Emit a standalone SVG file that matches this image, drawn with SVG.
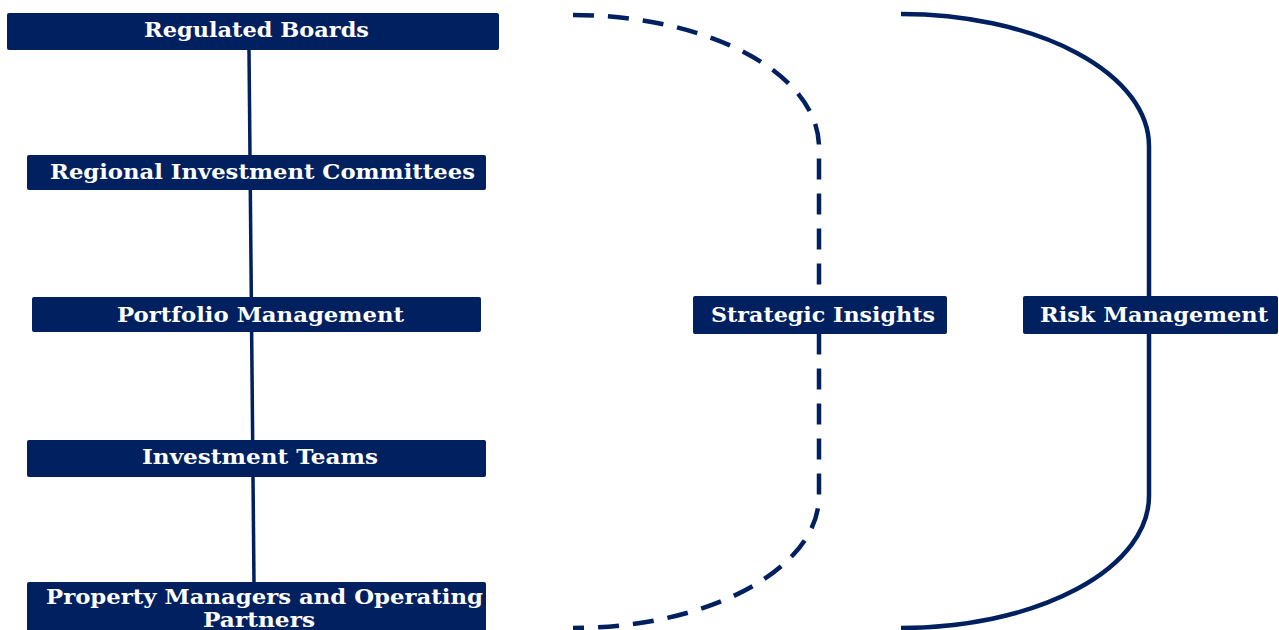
<svg xmlns="http://www.w3.org/2000/svg" width="1279" height="630" viewBox="0 0 1279 630">
  <style>
    .box { fill: #002060; }
    .lbl { font-family: "DejaVu Serif", "Liberation Serif", serif; font-weight: bold; font-size: 21px; fill: #ffffff; text-anchor: middle; }
    .link { fill: none; stroke: #002060; stroke-width: 4.5; }
    .dash { stroke-dasharray: 21 14; }
  </style>
  <rect width="1279" height="630" fill="#ffffff"/>

  <!-- connectors -->
  <g id="connectors">
    <line class="link" x1="249" y1="50" x2="254" y2="584" style="stroke-width:3.5"/>
    <path class="link dash" d="M573,15 A246,132 0 0 1 819,147 L819,496 A246,132 0 0 1 573,628"/>
    <path class="link" d="M901,14 A248,132 0 0 1 1149,146 L1149,496 A248,132 0 0 1 901,628"/>
  </g>

  <!-- hierarchy column -->
  <g id="regulated-boards">
    <rect class="box" x="7" y="13" width="492" height="37" rx="2"/>
    <text class="lbl" x="256.5" y="37" textLength="225" lengthAdjust="spacingAndGlyphs">Regulated Boards</text>
  </g>
  <g id="regional-investment-committees">
    <rect class="box" x="27" y="155" width="459" height="35" rx="2"/>
    <text class="lbl" x="262.5" y="179" textLength="425" lengthAdjust="spacingAndGlyphs">Regional Investment Committees</text>
  </g>
  <g id="portfolio-management">
    <rect class="box" x="32" y="297" width="449" height="35" rx="2"/>
    <text class="lbl" x="260.5" y="322" textLength="287" lengthAdjust="spacingAndGlyphs">Portfolio Management</text>
  </g>
  <g id="investment-teams">
    <rect class="box" x="27" y="440" width="459" height="37" rx="2"/>
    <text class="lbl" x="260" y="464" textLength="236" lengthAdjust="spacingAndGlyphs">Investment Teams</text>
  </g>
  <g id="property-managers">
    <rect class="box" x="27" y="582" width="459" height="60" rx="2"/>
    <text class="lbl" x="264.5" y="604" textLength="437" lengthAdjust="spacingAndGlyphs">Property Managers and Operating</text>
    <text class="lbl" x="259" y="627" textLength="112" lengthAdjust="spacingAndGlyphs">Partners</text>
  </g>

  <!-- side streams -->
  <g id="strategic-insights">
    <rect class="box" x="693" y="296" width="254" height="38" rx="2"/>
    <text class="lbl" x="823" y="322" textLength="224" lengthAdjust="spacingAndGlyphs">Strategic Insights</text>
  </g>
  <g id="risk-management">
    <rect class="box" x="1023" y="296" width="255" height="38" rx="2"/>
    <text class="lbl" x="1154" y="322" textLength="228" lengthAdjust="spacingAndGlyphs">Risk Management</text>
  </g>
</svg>
